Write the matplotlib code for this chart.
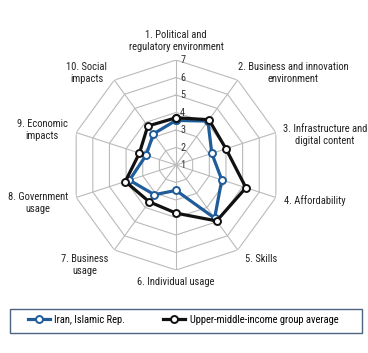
import matplotlib.pyplot as plt
import numpy as np
from matplotlib import font_manager as fm
from matplotlib.patches import Rectangle

categories = ["1. Political and\nregulatory environment",
              "2. Business and innovation\nenvironment",
              "3. Infrastructure and\ndigital content",
              "4. Affordability",
              "5. Skills",
              "6. Individual usage",
              "7. Business\nusage",
              "8. Government\nusage",
              "9. Economic\nimpacts",
              "10. Social\nimpacts"]
iran = [3.55, 4.1, 3.15, 3.75, 4.75, 2.45, 3.1, 3.8, 2.8, 3.2]
group_avg = [3.7, 4.2, 4.0, 5.2, 4.95, 3.75, 3.6, 4.05, 3.2, 3.75]
ticks = [1, 2, 3, 4, 5, 6, 7]

# pick a narrow font if one is installed
fonts = fm.fontManager.ttflist
names = {f.name for f in fonts}
stretch = 'normal'
family = 'Liberation Sans'
fsize = 6.5
for cand in ['Liberation Sans Narrow', 'Arial Narrow', 'Roboto Condensed']:
    if cand in names:
        family, fsize = cand, 7.4
        break
else:
    if any(f.name == 'DejaVu Sans' and f.stretch == 'condensed' for f in fonts):
        family, stretch, fsize = 'DejaVu Sans', 'condensed', 7.0
plt.rcParams['font.family'] = [family, 'DejaVu Sans']
plt.rcParams['font.stretch'] = stretch

n = len(categories)
theta = np.linspace(0, 2 * np.pi, n, endpoint=False)
closed = np.append(theta, theta[0])

fig = plt.figure(figsize=(3.68, 3.53), dpi=100)
ax = fig.add_axes([0.193, 0.2351, 0.5707, 0.5949], projection='polar')
ax.set_theta_zero_location('N')
ax.set_theta_direction(-1)
ax.set_ylim(1, 7)
ax.grid(False)
ax.spines['polar'].set_visible(False)
ax.set_xticks([])
ax.set_yticks([])
ax.patch.set_alpha(0)

grid_col = '#bababa'
for r in ticks[1:]:
    ax.plot(closed, [r] * (n + 1), color=grid_col, lw=0.8, zorder=1)
for t in theta:
    ax.plot([t, t], [1, 7], color=grid_col, lw=0.8, zorder=1)
for r in ticks:
    ax.annotate(str(r), xy=(0, r), xytext=(3, 0), textcoords='offset points',
                ha='left', va='center', fontsize=fsize, color='#333333')

blue = '#1f5c99'
black = '#111111'
ax.plot(closed, iran + iran[:1], color=blue, lw=2.3, marker='o', ms=5,
        mfc='white', mec=blue, mew=1.4, zorder=3, label='Iran, Islamic Rep.')
ax.plot(closed, group_avg + group_avg[:1], color=black, lw=2.3, marker='o', ms=5,
        mfc='white', mec=black, mew=1.4, zorder=4,
        label='Upper-middle-income group average')

# label placement: (offset x, offset y in points, ha, va)
label_pos = [(0, 6, 'center', 'bottom'),
             (0, 5, 'left', 'center'),
             (5, -2, 'left', 'center'),
             (6, -2, 'left', 'center'),
             (5, -3, 'left', 'top'),
             (0, -5, 'center', 'top'),
             (-4, -3, 'right', 'top'),
             (-6, -4, 'right', 'center'),
             (-6, 2, 'right', 'center'),
             (-5, 5, 'right', 'center')]
for t, lab, (dx, dy, ha, va) in zip(theta, categories, label_pos):
    ax.annotate(lab, xy=(t, 7), xytext=(dx, dy), textcoords='offset points',
                ha=ha, va=va, ma='center', fontsize=fsize + 0.2, color='#222222',
                annotation_clip=False, linespacing=1.25)

leg = fig.legend(loc='center left', bbox_to_anchor=(0.05, 0.093),
                 ncol=2, frameon=False, fontsize=fsize + 0.2,
                 handlelength=2.1, handletextpad=0.4, columnspacing=3.6)
fig.patches.append(Rectangle((10 / 368, 1 - 333 / 353), 352 / 368, 24 / 353,
                             transform=fig.transFigure, fill=False,
                             edgecolor='#4d6480', lw=1.0))

fig.savefig('out.png', dpi=100)
